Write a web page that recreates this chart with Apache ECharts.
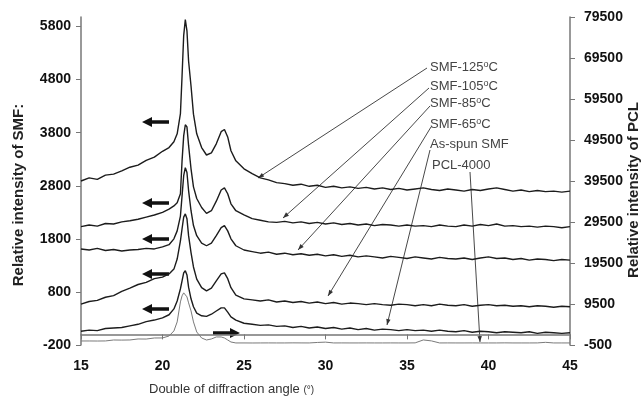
<!DOCTYPE html>
<html><head><meta charset="utf-8">
<script src="https://cdn.jsdelivr.net/npm/echarts@6/dist/echarts.min.js"></script>
<style>html,body{margin:0;padding:0;background:#fff}#c{width:643px;height:399px}</style>
</head><body><div id="c"></div><script>
// ---- data ----
const angles = [15,15.5,16,16.5,17,17.5,18,18.5,19,19.5,20,
  20.4,20.7,20.9,21.1,21.2,21.3,21.4,21.5,21.6,21.75,21.9,22.1,22.4,22.7,23.0,23.3,23.6,23.8,24.0,24.2,24.5,
  25,25.5,26,26.5,27,27.5,28,28.5,29,29.5,30,30.5,31,31.5,32,32.5,33,33.5,34,34.5,35,35.5,36,36.5,37,37.5,38,38.5,39,39.5,40,40.5,41,41.5,42,42.5,43,43.5,44,44.5,45];

const smf125 = [2890,2950,2920,3000,3020,3080,3150,3190,3280,3340,3450,
  3520,3630,3780,4160,4870,5630,5930,5720,5150,4680,4150,3780,3520,3380,3420,3590,3820,3860,3720,3460,3270,
  3120,3030,2950,2910,2860,2840,2810,2830,2790,2810,2770,2790,2760,2780,2750,2770,2740,2760,2730,2750,2720,2740,2760,2730,2710,2740,2720,2700,2730,2710,2740,2760,2730,2700,2720,2690,2710,2690,2700,2680,2700];

const smf105 = [2030,2060,2040,2090,2080,2120,2140,2170,2210,2250,2300,
  2360,2420,2480,2650,3270,3740,3950,3910,3560,3120,2780,2560,2390,2280,2330,2510,2720,2760,2650,2460,2330,
  2250,2180,2150,2120,2110,2130,2100,2120,2090,2110,2080,2100,2070,2090,2060,2080,2050,2070,2060,2040,2060,2040,2050,2030,2060,2040,2030,2060,2040,2070,2050,2080,2040,2050,2030,2040,2020,2040,2030,2010,2030];

const smf85 = [1610,1590,1620,1580,1600,1570,1590,1600,1620,1610,1650,
  1690,1800,1950,2230,2610,2990,3140,3050,2710,2330,2050,1860,1720,1670,1720,1860,2010,2050,1950,1800,1670,
  1590,1560,1530,1550,1510,1530,1500,1520,1490,1510,1480,1500,1470,1490,1460,1480,1460,1440,1470,1450,1430,1460,1440,1420,1450,1430,1420,1440,1410,1440,1460,1430,1440,1410,1430,1400,1420,1410,1390,1410,1400];

const smf65 = [570,620,640,700,730,810,870,940,980,1050,1080,
  1140,1230,1420,1760,1990,2210,2270,2180,1860,1540,1270,1040,880,820,870,1010,1140,1160,1050,880,740,
  670,650,630,650,610,630,600,620,590,610,580,600,570,590,580,560,580,560,550,570,560,540,560,540,570,550,540,560,530,550,560,540,550,530,540,520,540,530,510,530,520];

const asSpun = [60,80,70,110,120,130,160,190,240,270,310,
  370,480,630,860,1010,1160,1200,1120,890,670,520,400,350,340,380,440,500,500,420,330,270,
  210,190,170,180,150,160,130,150,120,140,110,130,100,120,90,110,80,100,90,70,90,70,80,60,80,60,50,70,40,60,50,30,50,40,30,50,20,40,30,20,30];

const pcl4000 = [480,480,470,490,720,700,730,970,950,1210,1220,
  1700,2930,5130,10020,11490,12220,12200,11240,9780,7820,5130,2680,1210,720,970,1460,1460,1210,720,230,0,
  0,-10,0,10,0,0,20,10,0,120,200,0,10,0,0,10,0,0,10,0,0,20,730,500,0,10,0,0,10,0,0,0,20,0,0,0,10,150,0,0,0];

const leftTicks = [-200,800,1800,2800,3800,4800,5800];
const rightTicks = [-500,9500,19500,29500,39500,49500,59500,69500,79500];
const seriesNames = ['SMF-125°C','SMF-105°C','SMF-85°C','SMF-65°C','As-spun SMF','PCL-4000'];

// ---- layout (pixels) ----
const FONT = "'Liberation Sans', Arial, sans-serif";
const labels = [
  {pre:'SMF-125', sup:true,  x:430, y:67,  tx:258, ty:178, sx:427, sy:68},
  {pre:'SMF-105', sup:true,  x:430, y:86,  tx:283, ty:218, sx:429, sy:88},
  {pre:'SMF-85',  sup:true,  x:430, y:103, tx:298, ty:250, sx:430, sy:106},
  {pre:'SMF-65',  sup:true,  x:430, y:124, tx:328, ty:296, sx:431, sy:127},
  {pre:'As-spun SMF', sup:false, x:430, y:144, tx:387, ty:325, sx:430, sy:150},
  {pre:'PCL-4000', sup:false, x:432, y:165, tx:480, ty:342, sx:470, sy:172}
];
const leftArrows = [[142,122],[142,203],[142,239],[142,274],[142,309]];
const rightArrow = [240,333];

function head(x0,y0,x1,y1){
  const dx=x1-x0, dy=y1-y0, L=Math.hypot(dx,dy), ux=dx/L, uy=dy/L, len=6, w=2.2;
  const bx=x1-ux*len, by=y1-uy*len;
  return [[x1,y1],[bx-uy*w,by+ux*w],[bx+uy*w,by-ux*w]];
}
function blockArrow(tx,ty,dir){
  const s=dir;
  const hl=10, hw=5, sw=1.8, L=27;
  return [[tx,ty],[tx-s*hl,ty-hw],[tx-s*hl,ty-sw],[tx-s*L,ty-sw],[tx-s*L,ty+sw],[tx-s*hl,ty+sw],[tx-s*hl,ty+hw]];
}

const graphic = [];
labels.forEach(l => {
  graphic.push({type:'line', shape:{x1:l.sx,y1:l.sy,x2:l.tx,y2:l.ty}, style:{stroke:'#333',lineWidth:0.9}, silent:true});
  graphic.push({type:'polygon', shape:{points:head(l.sx,l.sy,l.tx,l.ty)}, style:{fill:'#333'}, silent:true});
  graphic.push({type:'text', x:l.x, y:l.y, style:{
    text: l.sup ? l.pre + '{s|o}C' : l.pre,
    fill:'#444', fontSize:13, fontFamily:FONT, verticalAlign:'middle', align:'left',
    rich:{ s:{fontSize:9, fontFamily:FONT, fill:'#444', verticalAlign:'top', lineHeight:9} }
  }, silent:true});
});
leftArrows.forEach(a => graphic.push({type:'polygon', shape:{points:blockArrow(a[0],a[1],-1)}, style:{fill:'#111'}, silent:true}));
graphic.push({type:'polygon', shape:{points:blockArrow(rightArrow[0],rightArrow[1],1)}, style:{fill:'#111'}, silent:true});
graphic.push({type:'text', x:19, y:195, rotation:Math.PI/2, style:{text:'Relative intensity of SMF:', fontSize:15, fontWeight:'bold', fill:'#222', fontFamily:FONT, align:'center', verticalAlign:'middle'}});
graphic.push({type:'text', x:634, y:190, rotation:Math.PI/2, style:{text:'Relative intensity of PCL', fontSize:15, fontWeight:'bold', fill:'#222', fontFamily:FONT, align:'center', verticalAlign:'middle'}});
graphic.push({type:'text', x:149, y:389, style:{text:'Double of diffraction angle {s|(°)}', fontSize:13, fill:'#333', fontFamily:FONT, align:'left', verticalAlign:'middle',
  rich:{s:{fontSize:10, fill:'#333', fontFamily:FONT, verticalAlign:'bottom'}}}});

const zip = arr => angles.map((a,i)=>[a, arr[i]]);
const plain = v => String(v);
const smfColor = '#1c1c1c';
const chart = echarts.init(document.getElementById('c'), null, {renderer:'canvas'});
chart.setOption({
  animation:false,
  backgroundColor:'#fff',
  grid:{left:81, right:73, top:17, bottom:54, containLabel:false},
  xAxis:{type:'value', min:15, max:45, interval:5,
    axisLine:{lineStyle:{color:'#777', width:1.5}},
    axisTick:{show:true, length:5, lineStyle:{color:'#777'}},
    axisLabel:{color:'#111', fontSize:14, fontWeight:'bold', fontFamily:FONT, margin:14, formatter:plain},
    splitLine:{show:false}},
  yAxis:[
    {type:'value', min:-200, max:5980, position:'left',
      axisLine:{show:true, lineStyle:{color:'#777', width:1.5}},
      axisTick:{show:true, length:5, customValues:leftTicks, lineStyle:{color:'#777'}},
      axisLabel:{customValues:leftTicks, color:'#111', fontSize:14, fontWeight:'bold', fontFamily:FONT, margin:10, formatter:plain},
      splitLine:{show:false}},
    {type:'value', min:-500, max:79500, position:'right',
      axisLine:{show:true, lineStyle:{color:'#777', width:1.5}},
      axisTick:{show:true, length:5, customValues:rightTicks, lineStyle:{color:'#777'}},
      axisLabel:{customValues:rightTicks, color:'#111', fontSize:14, fontWeight:'bold', fontFamily:FONT, margin:14, formatter:plain},
      splitLine:{show:false}}
  ],
  series:[
    {name:seriesNames[0], type:'line', yAxisIndex:0, data:zip(smf125), showSymbol:false, lineStyle:{color:smfColor, width:1.4}},
    {name:seriesNames[1], type:'line', yAxisIndex:0, data:zip(smf105), showSymbol:false, lineStyle:{color:smfColor, width:1.4}},
    {name:seriesNames[2], type:'line', yAxisIndex:0, data:zip(smf85), showSymbol:false, lineStyle:{color:smfColor, width:1.4}},
    {name:seriesNames[3], type:'line', yAxisIndex:0, data:zip(smf65), showSymbol:false, lineStyle:{color:smfColor, width:1.4}},
    {name:seriesNames[4], type:'line', yAxisIndex:0, data:zip(asSpun), showSymbol:false, lineStyle:{color:smfColor, width:1.4}},
    {name:seriesNames[5], type:'line', yAxisIndex:1, data:zip(pcl4000), showSymbol:false, lineStyle:{color:'#7a7a7a', width:1}}
  ],
  graphic: graphic
});
</script></body></html>
